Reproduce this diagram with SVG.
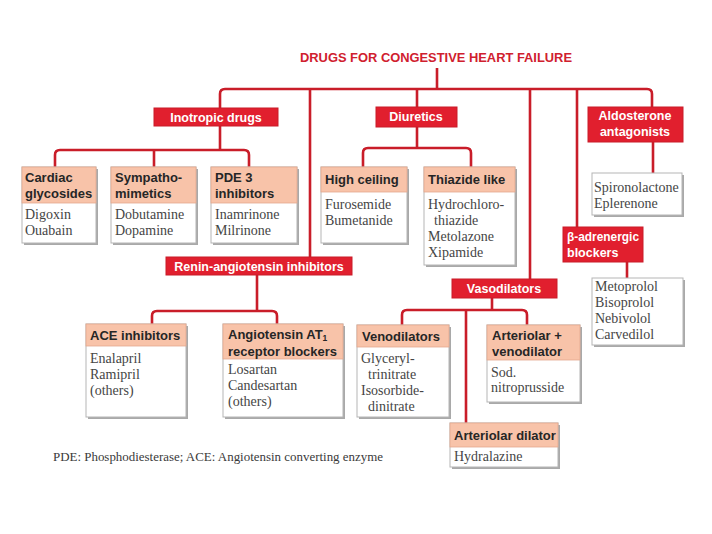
<svg xmlns="http://www.w3.org/2000/svg" width="712" height="534" viewBox="0 0 712 534">
<style>
.bg{fill:#ffffff}
.ln{fill:none;stroke:#c91d29;stroke-width:2.6;stroke-linejoin:round}
.rb{fill:#e11f2e;stroke:#c91d29;stroke-width:1}
.rt{font-family:"Liberation Sans",Arial,sans-serif;font-weight:bold;font-size:12.5px;fill:#ffffff}
.sh{fill:#a9a9a9}
.bx{fill:#ffffff;stroke:#b5b5b5;stroke-width:1}
.hd{fill:#f8c3a9;stroke:#e3a98e;stroke-width:0.8}
.ht{font-family:"Liberation Sans",Arial,sans-serif;font-weight:bold;font-size:13px;fill:#262626}
.bt{font-family:"Liberation Serif","Times New Roman",serif;font-size:14px;fill:#454545}
.ti{font-family:"Liberation Sans",Arial,sans-serif;font-weight:bold;font-size:13px;fill:#d0202e}
.fn{font-family:"Liberation Serif","Times New Roman",serif;font-size:12.5px;fill:#3a3a3a}
</style>
<rect class="bg" x="0" y="0" width="712" height="534"/>

<g id="connectors">
<path class="ln" d="M437,68 V89"/>
<path class="ln" d="M220,108 V94 Q220,89 225,89 H647 Q652,89 652,94 V107"/>
<path class="ln" d="M310,89 V257"/>
<path class="ln" d="M417,89 V107"/>
<path class="ln" d="M530,89 V279"/>
<path class="ln" d="M577,89 V227"/>
<path class="ln" d="M220,126 V150"/>
<path class="ln" d="M55,167 V155 Q55,150 60,150 H244 Q249,150 249,155 V167"/>
<path class="ln" d="M154,150 V167"/>
<path class="ln" d="M417,127 V148"/>
<path class="ln" d="M363,167 V153 Q363,148 368,148 H466 Q471,148 471,153 V167"/>
<path class="ln" d="M653,142 V173"/>
<path class="ln" d="M627,262 V278"/>
<path class="ln" d="M257,275 V311"/>
<path class="ln" d="M152,324 V316 Q152,311 157,311 H272 Q277,311 277,316 V324"/>
<path class="ln" d="M492,298 V310"/>
<path class="ln" d="M402,325 V315 Q402,310 407,310 H522 Q527,310 527,315 V325"/>
<path class="ln" d="M466,310 V423"/>
</g>

<g id="title">
<text class="ti" x="436" y="62" text-anchor="middle" textLength="272" lengthAdjust="spacingAndGlyphs">DRUGS FOR CONGESTIVE HEART FAILURE</text>
</g>

<g id="inotropic">
<rect class="rb" x="154" y="108" width="124" height="18"/>
<text class="rt" x="216" y="122" text-anchor="middle">Inotropic drugs</text>
</g>

<g id="diuretics">
<rect class="rb" x="376" y="107" width="81" height="20"/>
<text class="rt" x="416" y="121" text-anchor="middle">Diuretics</text>
</g>

<g id="aldosterone">
<rect class="rb" x="588" y="107" width="95" height="35"/>
<text class="rt" x="635" y="120" text-anchor="middle">Aldosterone</text>
<text class="rt" x="635" y="136" text-anchor="middle">antagonists</text>
</g>

<g id="cardiac">
<rect class="sh" x="24" y="169" width="74" height="76"/>
<rect class="bx" x="22" y="167" width="74" height="76"/>
<rect class="hd" x="22" y="167" width="74" height="36"/>
<text class="ht" x="25" y="182">Cardiac</text>
<text class="ht" x="25" y="198">glycosides</text>
<text class="bt" x="25" y="219">Digoxin</text>
<text class="bt" x="25" y="235">Ouabain</text>
</g>

<g id="sympatho">
<rect class="sh" x="113" y="169" width="85" height="76"/>
<rect class="bx" x="111" y="167" width="85" height="76"/>
<rect class="hd" x="111" y="167" width="85" height="36"/>
<text class="ht" x="115" y="182">Sympatho-</text>
<text class="ht" x="115" y="198">mimetics</text>
<text class="bt" x="115" y="219">Dobutamine</text>
<text class="bt" x="115" y="235">Dopamine</text>
</g>

<g id="pde3">
<rect class="sh" x="213" y="169" width="86" height="76"/>
<rect class="bx" x="211" y="167" width="86" height="76"/>
<rect class="hd" x="211" y="167" width="86" height="36"/>
<text class="ht" x="215" y="182">PDE 3</text>
<text class="ht" x="215" y="198">inhibitors</text>
<text class="bt" x="215" y="219">Inamrinone</text>
<text class="bt" x="215" y="235">Milrinone</text>
</g>

<g id="highceiling">
<rect class="sh" x="323" y="169" width="86" height="76"/>
<rect class="bx" x="321" y="167" width="86" height="76"/>
<rect class="hd" x="321" y="167" width="86" height="25"/>
<text class="ht" x="325" y="184">High ceiling</text>
<text class="bt" x="325" y="209">Furosemide</text>
<text class="bt" x="325" y="225">Bumetanide</text>
</g>

<g id="thiazide">
<rect class="sh" x="426" y="169" width="91" height="98"/>
<rect class="bx" x="424" y="167" width="91" height="98"/>
<rect class="hd" x="424" y="167" width="91" height="25"/>
<text class="ht" x="428" y="184">Thiazide like</text>
<text class="bt" x="428" y="209">Hydrochloro-</text>
<text class="bt" x="434" y="225">thiazide</text>
<text class="bt" x="428" y="241">Metolazone</text>
<text class="bt" x="428" y="257">Xipamide</text>
</g>

<g id="spironolactone">
<rect class="sh" x="594" y="175" width="90" height="42"/>
<rect class="bx" x="592" y="173" width="90" height="42"/>
<text class="bt" x="594" y="192">Spironolactone</text>
<text class="bt" x="594" y="208">Eplerenone</text>
</g>

<g id="beta">
<rect class="rb" x="563" y="227" width="80" height="35"/>
<text class="rt" x="567" y="241" font-size="12" textLength="72" lengthAdjust="spacingAndGlyphs">β-adrenergic</text>
<text class="rt" x="567" y="257" font-size="12">blockers</text>
</g>

<g id="renin">
<rect class="rb" x="166" y="257" width="186" height="18"/>
<text class="rt" x="259" y="271" text-anchor="middle">Renin-angiotensin inhibitors</text>
</g>

<g id="vasodilators">
<rect class="rb" x="452" y="279" width="105" height="19"/>
<text class="rt" x="504" y="293" text-anchor="middle">Vasodilators</text>
</g>

<g id="metoprolol">
<rect class="sh" x="594" y="280" width="91" height="67"/>
<rect class="bx" x="592" y="278" width="91" height="67"/>
<text class="bt" x="595" y="291">Metoprolol</text>
<text class="bt" x="595" y="307">Bisoprolol</text>
<text class="bt" x="595" y="323">Nebivolol</text>
<text class="bt" x="595" y="339">Carvedilol</text>
</g>

<g id="ace">
<rect class="sh" x="88" y="326" width="100" height="93"/>
<rect class="bx" x="86" y="324" width="100" height="93"/>
<rect class="hd" x="86" y="324" width="100" height="22"/>
<text class="ht" x="90" y="340">ACE inhibitors</text>
<text class="bt" x="90" y="363">Enalapril</text>
<text class="bt" x="90" y="379">Ramipril</text>
<text class="bt" x="90" y="395">(others)</text>
</g>

<g id="at1">
<rect class="sh" x="225" y="326" width="120" height="93"/>
<rect class="bx" x="223" y="324" width="120" height="93"/>
<rect class="hd" x="223" y="324" width="120" height="35"/>
<text class="ht" x="228" y="339">Angiotensin AT<tspan font-size="8.5" dy="2">1</tspan></text>
<text class="ht" x="228" y="356">receptor blockers</text>
<text class="bt" x="228" y="374">Losartan</text>
<text class="bt" x="228" y="390">Candesartan</text>
<text class="bt" x="228" y="406">(others)</text>
</g>

<g id="venodilators">
<rect class="sh" x="359" y="327" width="92" height="92"/>
<rect class="bx" x="357" y="325" width="92" height="92"/>
<rect class="hd" x="357" y="325" width="92" height="22"/>
<text class="ht" x="362" y="341">Venodilators</text>
<text class="bt" x="361" y="363">Glyceryl-</text>
<text class="bt" x="368" y="379">trinitrate</text>
<text class="bt" x="361" y="395">Isosorbide-</text>
<text class="bt" x="368" y="411">dinitrate</text>
</g>

<g id="artvenodilator">
<rect class="sh" x="489" y="327" width="93" height="77"/>
<rect class="bx" x="487" y="325" width="93" height="77"/>
<rect class="hd" x="487" y="325" width="93" height="35"/>
<text class="ht" x="492" y="340">Arteriolar +</text>
<text class="ht" x="492" y="356">venodilator</text>
<text class="bt" x="491" y="377">Sod.</text>
<text class="bt" x="491" y="392">nitroprusside</text>
</g>

<g id="artdilator">
<rect class="sh" x="452" y="425" width="108" height="44"/>
<rect class="bx" x="450" y="423" width="108" height="44"/>
<rect class="hd" x="450" y="423" width="108" height="24"/>
<text class="ht" x="454" y="440">Arteriolar dilator</text>
<text class="bt" x="454" y="461">Hydralazine</text>
</g>

<g id="footnote">
<text class="fn" x="53" y="461" textLength="330" lengthAdjust="spacingAndGlyphs">PDE: Phosphodiesterase; ACE: Angiotensin converting enzyme</text>
</g>
</svg>
